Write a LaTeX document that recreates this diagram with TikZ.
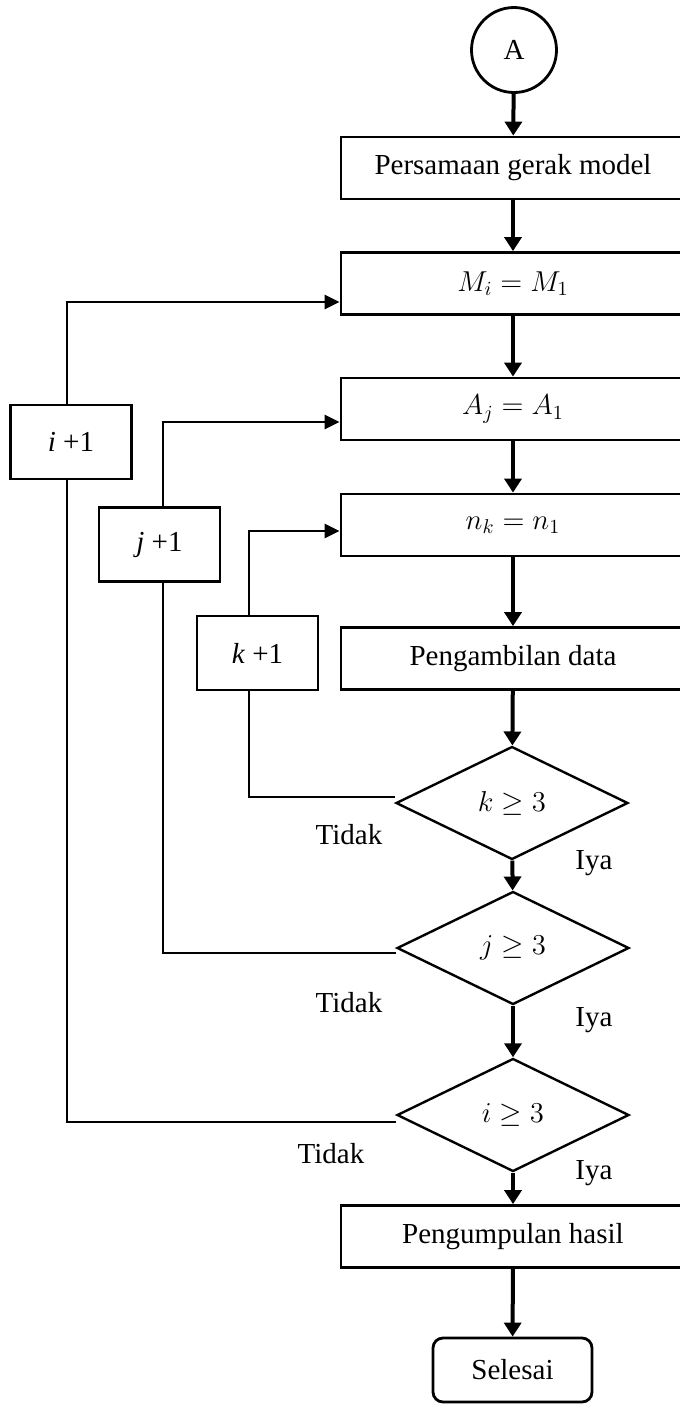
\documentclass[tikz,border=0pt]{standalone}
\usepackage{fontspec}
\setmainfont{Liberation Serif}
\usetikzlibrary{shapes.geometric,arrows.meta}

\begin{document}
\begin{tikzpicture}[x=0.5pt,y=-0.5pt,
  font=\fontsize{14.5}{17}\selectfont,
  box/.style={draw,line width=1.4pt,minimum width=172pt,minimum height=31pt,inner sep=0pt},
  sidebox/.style={draw,line width=1.4pt,minimum width=60.5pt,minimum height=37pt,inner sep=0pt},
  decision/.style={draw,diamond,line width=1.2pt,minimum width=116pt,minimum height=56.5pt,inner sep=0pt},
  mainarrow/.style={line width=2pt,-{Triangle[width=8.5pt,length=7pt]}},
  looparrow/.style={line width=1.4pt,-{Triangle[width=7pt,length=7.5pt]}},
  loopline/.style={line width=1.4pt},
  answer/.style={inner sep=0pt}
]
\useasboundingbox (0,0) rectangle (680,1405);

% main column
\node[circle,draw,line width=1.4pt,minimum size=42.5pt,inner sep=0pt] (start) at (514,50) {A};
\node[box] (model) at (513,168) {Persamaan gerak model};
\node[box] (mi) at (513,283.5) {$M_i = M_1$};
\node[box] (aj) at (513,409) {$A_j = A_1$};
\node[box] (nk) at (513,525) {$n_k = n_1$};
\node[box] (data) at (513,658.5) {Pengambilan data};
\node[decision] (dk) at (512,803) {$k \geq 3$};
\node[decision] (dj) at (513,948) {$j \geq 3$};
\node[decision] (di) at (513,1115) {$i \geq 3$};
\node[box] (hasil) at (513,1236.5) {Pengumpulan hasil};
\node[draw,rounded corners=5pt,line width=1.4pt,minimum width=79.5pt,minimum height=32pt] (finish) at (512.5,1370) {Selesai};

% counter increments
\node[sidebox] (pi) at (71,442) {\textit{i} +1};
\node[sidebox] (pj) at (159.5,544.5) {\textit{j} +1};
\node[sidebox] (pk) at (257.5,653) {\textit{k} +1};

% branch labels
\node[answer] (nok) at (349,835) {Tidak};
\node[answer] (noj) at (349,1003) {Tidak};
\node[answer] (noi) at (331,1154) {Tidak};
\node[answer] (yesk) at (594,863) {Iya};
\node[answer] (yesj) at (594,1020) {Iya};
\node[answer] (yesi) at (594,1173) {Iya};

% main flow
\draw[mainarrow] (start) -- (model);
\draw[mainarrow] (model) -- (mi);
\draw[mainarrow] (mi) -- (aj);
\draw[mainarrow] (aj) -- (nk);
\draw[mainarrow] (nk) -- (data);
\draw[mainarrow] (data) -- (dk);
\draw[mainarrow] (dk) -- (dj);
\draw[mainarrow] (dj) -- (di);
\draw[mainarrow] (di) -- (hasil);
\draw[mainarrow] (hasil) -- (finish);

% loops back
\draw[loopline] ([yshift=3pt]dk.west) -| ([xshift=-4.25pt]pk.south);
\draw[looparrow] ([xshift=-4.25pt]pk.north) |- ([yshift=-3pt]nk.west);
\draw[loopline] ([yshift=-2.5pt]dj.west) -| ([xshift=1.75pt]pj.south);
\draw[looparrow] ([xshift=1.75pt]pj.north) |- ([yshift=-6.5pt]aj.west);
\draw[loopline] ([yshift=-3.5pt]di.west) -| ([xshift=-2pt]pi.south);
\draw[looparrow] ([xshift=-2pt]pi.north) |- ([yshift=-9.25pt]mi.west);
\end{tikzpicture}
\end{document}
